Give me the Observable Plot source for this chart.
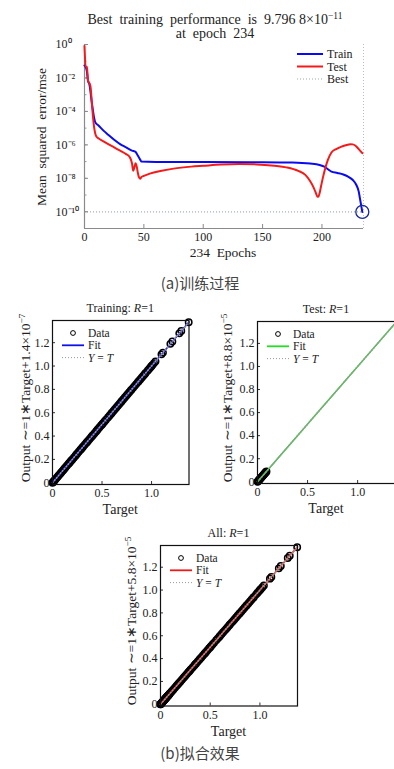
<!DOCTYPE html>
<html><head><meta charset="utf-8">
<script src="https://cdn.jsdelivr.net/npm/d3@7"></script>
<script src="https://cdn.jsdelivr.net/npm/@observablehq/plot@0.6"></script>
<style>
body{margin:0;background:#fff;}
#fig{position:relative;width:394px;height:769px;overflow:hidden;font-family:"Liberation Serif",serif;color:#222;background:#fff;}
.abs{position:absolute;white-space:nowrap;line-height:1.1;}
.panel{position:absolute;}
.panel svg{overflow:visible;}
sup{font-size:68%;vertical-align:0.55em;line-height:0;}
.cap{font-family:"Noto Sans CJK SC",sans-serif;color:#444;font-weight:400;}
</style></head><body><div id="fig"></div>
<script>
// ---------- Panel (a): training performance ----------
const trainEpochs = [0,1,2,3,4,5,6,7,8,9,12,16,20,25,30,35,40,43,45,47,48,60,100,150,175,190,198,202,205,208,213,218,222,226,229,231,232,233,234];
const trainMse   = [5.6e-2,4.5e-2,2.5e-2,6.3e-3,4.5e-3,1.6e-3,4.0e-4,1.26e-4,4.5e-5,2.3e-5,1.4e-5,7.1e-6,4.0e-6,2.0e-6,1.1e-6,7.1e-7,4.5e-7,3.8e-7,2.2e-7,1.26e-7,1.0e-7,9.5e-8,9.3e-8,9.1e-8,8.7e-8,7.6e-8,6.3e-8,5.0e-8,3.5e-8,2.5e-8,2.1e-8,1.7e-8,1.26e-8,7.9e-9,4.0e-9,1.6e-9,6.3e-10,2.5e-10,9.7968e-11];
const testEpochs = [0,1,2,3,4,5,6,7,8,9,10,12,16,20,25,30,35,38,40,41,42,43,44,45,46,47,48,50,55,65,75,90,100,115,130,145,160,170,180,186,190,193,195,196,197,198,199,201,203,205,208,212,216,220,224,226,228,231,234];
const testMse    = [0.8,5.0e-2,4.5e-2,7.1e-3,5.0e-3,3.2e-3,5.0e-4,6.3e-5,1.26e-5,5.0e-6,3.2e-6,2.4e-6,1.6e-6,1.1e-6,7.1e-7,4.5e-7,2.8e-7,1.9e-7,7.9e-8,2.8e-8,4.5e-8,7.9e-8,5.0e-8,2.0e-8,1.1e-8,9.5e-9,1.2e-8,1.4e-8,1.9e-8,2.8e-8,3.8e-8,5.0e-8,5.6e-8,6.6e-8,7.1e-8,6.8e-8,5.6e-8,4.5e-8,2.8e-8,1.6e-8,6.9e-9,2.8e-9,1.26e-9,8.3e-10,7.9e-10,1.26e-9,2.8e-9,1.26e-8,4.5e-8,1.26e-7,3.5e-7,5.6e-7,7.6e-7,9.5e-7,1.1e-6,1.07e-6,9.1e-7,5.6e-7,3.2e-7];
const bestEpoch = 234;
const bestPerf = 9.7968e-11;
const epochDomain = [0, 235];
const epochTicks = [0, 50, 100, 150, 200];
const mseDomain = [1e-11, 1];
const mseTicks = [1e0, 1e-2, 1e-4, 1e-6, 1e-8, 1e-10];
const mseTickLabels = ["10⁰", "10⁻²", "10⁻⁴", "10⁻⁶", "10⁻⁸", "10⁻¹⁰"];
const mseDecades = [1e0,1e-1,1e-2,1e-3,1e-4,1e-5,1e-6,1e-7,1e-8,1e-9,1e-10,1e-11];

// ---------- Panel (b): regression ----------
const trainTargets = [0,0.005,0.01,0.015,0.02,0.03,0.04,0.05,0.06,0.07,0.08,0.09,0.1,0.11,0.12,0.13,0.145,0.16,0.17,0.18,0.19,0.2,0.215,0.23,0.24,0.25,0.265,0.28,0.29,0.3,0.31,0.325,0.34,0.35,0.36,0.375,0.39,0.4,0.41,0.425,0.44,0.45,0.46,0.475,0.49,0.5,0.51,0.525,0.54,0.56,0.575,0.59,0.6,0.615,0.63,0.645,0.66,0.675,0.69,0.7,0.715,0.73,0.745,0.76,0.775,0.79,0.8,0.815,0.83,0.845,0.86,0.87,0.885,0.9,0.915,0.93,0.94,0.96,0.975,0.99,1.0,1.01,1.025,1.04,1.1,1.115,1.19,1.21,1.28,1.3,1.375];
const testTargets = [0,0.004,0.008,0.012,0.016,0.02,0.025,0.03,0.035,0.04,0.045,0.05,0.055,0.06,0.065,0.07,0.075,0.08,0.085,0.09];
const allTargets = trainTargets.concat(testTargets);
const fitTrain = {slope: 1, intercept: 1.4e-7};
const fitTest  = {slope: 1, intercept: 8.8e-5};
const fitAll   = {slope: 1, intercept: 5.8e-5};
const regDomainX = [0, 1.378];
const regDomainY = [-0.015, 1.39];
const regXTicks = [0, 0.5, 1.0];
const regYTicks = [0, 0.2, 0.4, 0.6, 0.8, 1.0, 1.2];

const fig = document.getElementById("fig");
const serif = "'Liberation Serif', serif";

function place(node, left, top) {
  const d = document.createElement("div");
  d.className = "panel"; d.style.left = left + "px"; d.style.top = top + "px";
  d.appendChild(node); fig.appendChild(d); return d;
}
function label(html, x, y, size, opts = {}) {
  const d = document.createElement("div");
  d.className = "abs" + (opts.cls ? " " + opts.cls : "");
  d.innerHTML = html;
  d.style.left = x + "px"; d.style.top = y + "px";
  d.style.fontSize = size + "px";
  d.style.transform = "translate(-50%,-50%)" + (opts.rotate ? ` rotate(${opts.rotate}deg)` : "");
  fig.appendChild(d); return d;
}

// ---- Plot A ----
{
  const W = 394, H = 262, ml = 84, mr = 31, mt = 44, mb = 34;
  const fw = W - ml - mr, fh = H - mt - mb;
  const trainData = trainEpochs.map((e, i) => ({e, v: trainMse[i]}));
  const testData = testEpochs.map((e, i) => ({e, v: testMse[i]}));
  const A = Plot.plot({
    width: W, height: H, marginLeft: ml, marginRight: mr, marginTop: mt, marginBottom: mb,
    style: {fontFamily: serif, fontSize: "11px", color: "#222", background: "transparent", overflow: "visible"},
    x: {domain: epochDomain, label: null},
    y: {type: "log", domain: mseDomain, label: null},
    marks: [
      Plot.ruleX([epochDomain[1]], {stroke: "#b8bccc", strokeDasharray: "1,2"}),
      Plot.ruleY([bestPerf], {stroke: "#8899c4", strokeDasharray: "1,2"}),
      Plot.tickY(mseDecades, {stroke: "#999", insetRight: fw - 2.5}),
      Plot.tickY(mseTicks, {stroke: "#888", insetRight: fw - 4}),
      Plot.tickX(epochTicks, {stroke: "#888", insetTop: fh - 4}),
      Plot.ruleX([epochDomain[0]], {stroke: "#8a8a8a", strokeWidth: 1.2}),
      Plot.ruleY([mseDomain[0]], {stroke: "#8a8a8a", strokeWidth: 1.2}),
      Plot.line(trainData, {x: "e", y: "v", stroke: "#0a0af2", strokeWidth: 2, curve: "monotone-x"}),
      Plot.line(testData, {x: "e", y: "v", stroke: "#f51a1a", strokeWidth: 2, curve: "monotone-x"}),
      Plot.dot([{e: bestEpoch, v: bestPerf}], {x: "e", y: "v", r: 6.5, stroke: "#1a2a9a", strokeWidth: 1.3}),
      Plot.axisX({ticks: epochTicks, tickSize: 0, tickPadding: 4, fontSize: 12}),
      Plot.axisY({ticks: mseTicks, tickSize: 0, tickPadding: 29, textAnchor: "start", fontSize: 12,
        tickFormat: d => mseTickLabels[mseTicks.indexOf(d)]})
    ]
  });
  place(A, 0, 0);

  label("Best&nbsp; training&nbsp; performance&nbsp; is&nbsp; 9.796 8×10<sup>−11</sup>", 215, 20, 14);
  label("at&nbsp; epoch&nbsp; 234", 215, 34, 14);
  label("Mean&nbsp; squared&nbsp; error/mse", 42, 137, 13.5, {rotate: -90});
  label("234&nbsp; Epochs", 223, 253, 13.5);
  label("(a)训练过程", 200, 283, 15, {cls: "cap"});

  // legend
  const lg = d3.create("svg").attr("width", 80).attr("height", 46)
    .style("font-family", serif).style("font-size", "12px").style("font-weight", "normal");
  const rows = [{t: "Train", c: "#0a0af2", dash: null, w: 2}, {t: "Test", c: "#f51a1a", dash: null, w: 2}, {t: "Best", c: "#9aa", dash: "1,2", w: 1}];
  rows.forEach((r, i) => {
    const y = 9 + i * 12.5;
    lg.append("line").attr("x1", 1).attr("x2", 27).attr("y1", y).attr("y2", y)
      .attr("stroke", r.c).attr("stroke-width", r.w).attr("stroke-dasharray", r.dash);
    lg.append("text").attr("x", 31).attr("y", y).attr("dy", "0.35em").attr("fill", "#222").text(r.t);
  });
  place(lg.node(), 296, 45);
}

// ---- Regression panels ----
function regPanel(cfg) {
  const {left, top, W, H, ml, mr, mt, mb, targets, fit, color} = cfg;
  const fw = W - ml - mr, fh = H - mt - mb;
  const fitPts = regDomainX.map(t => ({t, o: fit.slope * t + fit.intercept}));
  const idPts = regDomainX.map(t => ({t, o: t}));
  const fmt = d => d === 0 ? "0" : d.toFixed(1);
  const P = Plot.plot({
    width: W, height: H, marginLeft: ml, marginRight: mr, marginTop: mt, marginBottom: mb,
    style: {fontFamily: serif, fontSize: "11px", color: "#222", background: "transparent", overflow: "visible"},
    x: {domain: regDomainX, label: null},
    y: {domain: regDomainY, label: null},
    marks: [
      Plot.tickX(regXTicks, {stroke: "#333", insetTop: fh - 3}),
      Plot.tickY(regYTicks, {stroke: "#333", insetRight: fw - 3}),
      Plot.dot(targets, {x: d => d, y: d => d, r: 3.2, stroke: "#000", strokeWidth: 1.5}),
      Plot.line(fitPts, {x: "t", y: "o", stroke: color, strokeWidth: 1.6}),
      Plot.line(idPts, {x: "t", y: "o", stroke: "#999", strokeDasharray: "1,2"}),
      Plot.frame({stroke: "#111", strokeWidth: 1.2}),
      Plot.axisX({ticks: regXTicks, tickSize: 0, tickPadding: 4, fontSize: 12, tickFormat: fmt}),
      Plot.axisY({ticks: regYTicks, tickSize: 0, tickPadding: 3, fontSize: 12, tickFormat: fmt})
    ]
  });
  place(P, left, top);
  const fx0 = left + ml, fy0 = top + mt, fx1 = left + W - mr, fy1 = top + H - mb;
  label(cfg.title, (fx0 + fx1) / 2, fy0 - 11, 12);
  label(cfg.ylab, cfg.ylabX, (fy0 + fy1) / 2 - 4, 13.5, {rotate: -90});
  label("Target", (fx0 + fx1) / 2, fy1 + 26, 14);
  // legend
  const lg = d3.create("svg").attr("width", 80).attr("height", 46)
    .style("font-family", serif).style("font-size", "11.5px").style("font-weight", "normal");
  const y0 = 8, dy = 12.3;
  lg.append("circle").attr("cx", 21).attr("cy", y0).attr("r", 2.4).attr("fill", "none").attr("stroke", "#000").attr("stroke-width", 1);
  lg.append("text").attr("x", 36).attr("y", y0).attr("dy", "0.35em").attr("fill", "#222").text("Data");
  lg.append("line").attr("x1", 10).attr("x2", 32).attr("y1", y0 + dy).attr("y2", y0 + dy).attr("stroke", color).attr("stroke-width", 1.8);
  lg.append("text").attr("x", 36).attr("y", y0 + dy).attr("dy", "0.35em").attr("fill", "#222").text("Fit");
  lg.append("line").attr("x1", 10).attr("x2", 32).attr("y1", y0 + 2 * dy).attr("y2", y0 + 2 * dy).attr("stroke", "#999").attr("stroke-dasharray", "1,2");
  const t = lg.append("text").attr("x", 36).attr("y", y0 + 2 * dy).attr("dy", "0.35em").attr("fill", "#222");
  t.append("tspan").attr("font-style", "italic").text("Y");
  t.append("tspan").text(" = ");
  t.append("tspan").attr("font-style", "italic").text("T");
  place(lg.node(), fx0, fy0 + 5);
}

regPanel({left: 0, top: 295, W: 200, H: 230, ml: 52, mr: 11.5, mt: 25, mb: 41,
  targets: trainTargets, fit: fitTrain, color: "#1010e8",
  title: "Training: <i>R</i>=1", ylab: "Output ∼=1∗Target+1.4×10<sup>−7</sup>", ylabX: 26});
regPanel({left: 195, top: 295, W: 199, H: 230, ml: 62, mr: -1, mt: 26, mb: 42,
  targets: testTargets, fit: fitTest, color: "#22e022",
  title: "Test: <i>R</i>=1", ylab: "Output ∼=1∗Target+8.8×10<sup>−5</sup>", ylabX: 228});
regPanel({left: 100, top: 520, W: 220, H: 230, ml: 60, mr: 23, mt: 25, mb: 44.5,
  targets: allTargets, fit: fitAll, color: "#f01818",
  title: "All: <i>R</i>=1", ylab: "Output ∼=1∗Target+5.8×10<sup>−5</sup>", ylabX: 132});

label("(b)拟合效果", 200, 753, 15, {cls: "cap"});
</script></body></html>
